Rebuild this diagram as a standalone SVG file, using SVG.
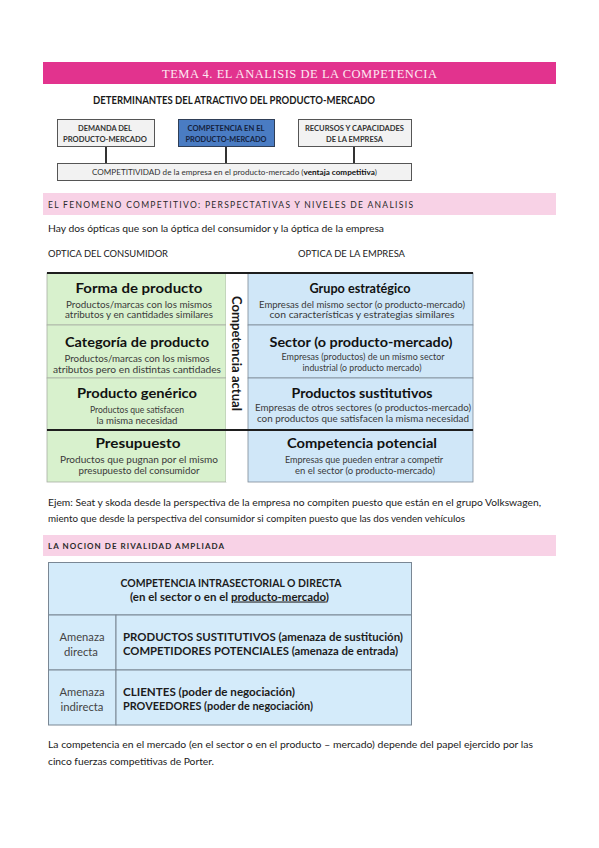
<svg xmlns="http://www.w3.org/2000/svg" width="599" height="848" viewBox="0 0 599 848">
<style>
  .sans { font-family: Lato, "Open Sans", "Liberation Sans", sans-serif; }
  .body { font-family: Lato, "Open Sans", "Liberation Sans", sans-serif; font-size: 9.5px; fill: #1a1a1a; }
  .hdr { font-family: Lato, "Open Sans", "Liberation Sans", sans-serif; font-size: 8.5px; fill: #2a2a2a; }
  .box { fill: #f2f2f2; stroke: #555; stroke-width: 1; }
  .boxt { font-family: Lato, "Open Sans", "Liberation Sans", sans-serif; font-size: 7.6px; font-weight: bold; fill: #333; text-anchor: middle; }
  .conn { stroke: #333; stroke-width: 2; fill: none; }
  .green { fill: #d8f1cd; stroke: #a8b0a4; stroke-width: 0.8; }
  .blue { fill: #d0e7f8; stroke: #7d8a96; stroke-width: 0.8; }
  .ttl { font-family: Lato, "Open Sans", "Liberation Sans", sans-serif; font-size: 14px; font-weight: bold; fill: #111; text-anchor: middle; }
  .sub { font-family: Lato, "Open Sans", "Liberation Sans", sans-serif; font-size: 9.3px; fill: #3a3a3a; text-anchor: middle; }
  .t2 { font-family: Lato, "Open Sans", "Liberation Sans", sans-serif; font-size: 10.5px; font-weight: bold; fill: #1c1c1c; }
  .t2n { font-family: Lato, "Open Sans", "Liberation Sans", sans-serif; font-size: 10.5px; fill: #444; text-anchor: middle; }
</style>

<rect width="599" height="848" fill="#ffffff"/>

<!-- Title bar -->
<g id="title-bar">
  <rect x="43" y="62" width="513" height="22" fill="#e2338e"/>
  <text x="162" y="78" font-family="'Liberation Serif', serif" font-size="12.5" fill="#fde9f2" textLength="275" lengthAdjust="spacing">TEMA 4. EL ANALISIS DE LA COMPETENCIA</text>
</g>

<!-- Determinantes diagram -->
<g id="determinantes-title">
  <text x="93" y="104" class="sans" font-size="11" font-weight="bold" fill="#1a1a1a" textLength="282" lengthAdjust="spacingAndGlyphs">DETERMINANTES DEL ATRACTIVO DEL PRODUCTO-MERCADO</text>
</g>

<g id="connectors">
  <line class="conn" x1="106" y1="146" x2="106" y2="163"/>
  <line class="conn" x1="226" y1="146" x2="226" y2="163"/>
  <line class="conn" x1="354" y1="146" x2="354" y2="163"/>
</g>

<g id="demanda">
  <rect class="box" x="57.5" y="119.5" width="97" height="27"/>
  <text class="boxt" x="105" y="131" textLength="54" lengthAdjust="spacingAndGlyphs">DEMANDA DEL</text>
  <text class="boxt" x="105" y="141.5" textLength="84" lengthAdjust="spacingAndGlyphs">PRODUCTO-MERCADO</text>
</g>
<g id="competencia">
  <rect x="178.5" y="119.5" width="96" height="27" fill="#4a7cc3" stroke="#2f3e56" stroke-width="1"/>
  <text class="boxt" x="226" y="131" fill="#15223d" style="fill:#15223d" textLength="77" lengthAdjust="spacingAndGlyphs">COMPETENCIA EN EL</text>
  <text class="boxt" x="226" y="141.5" style="fill:#15223d" textLength="81" lengthAdjust="spacingAndGlyphs">PRODUCTO-MERCADO</text>
</g>
<g id="recursos">
  <rect class="box" x="298.5" y="119.5" width="113" height="27"/>
  <text class="boxt" x="354.5" y="131" textLength="99" lengthAdjust="spacingAndGlyphs">RECURSOS Y CAPACIDADES</text>
  <text class="boxt" x="354.5" y="141.5" textLength="57" lengthAdjust="spacingAndGlyphs">DE LA EMPRESA</text>
</g>
<g id="competitividad">
  <rect class="box" x="57.5" y="163.5" width="354" height="17"/>
  <text x="92" y="175" class="sans" font-size="8.2" fill="#333" textLength="285" lengthAdjust="spacingAndGlyphs">COMPETITIVIDAD de la empresa en el producto-mercado (<tspan font-weight="bold" fill="#111">ventaja competitiva</tspan>)</text>
</g>

<!-- Section 2 -->
<g id="section-fenomeno">
  <rect x="43" y="193" width="513" height="22" fill="#f8d2e6"/>
  <text class="hdr" x="48" y="208" textLength="365" lengthAdjust="spacing">EL FENOMENO COMPETITIVO: PERSPECTATIVAS Y NIVELES DE ANALISIS</text>
  <text class="body" x="48" y="232" textLength="336" lengthAdjust="spacingAndGlyphs">Hay dos ópticas que son la óptica del consumidor y la óptica de la empresa</text>
  <text class="body" x="48" y="257" textLength="120" lengthAdjust="spacingAndGlyphs">OPTICA DEL CONSUMIDOR</text>
  <text class="body" x="298" y="257" textLength="107" lengthAdjust="spacingAndGlyphs">OPTICA DE LA EMPRESA</text>
</g>

<!-- Table 1 -->
<g id="forma-de-producto">
  <rect class="green" x="47" y="273" width="179" height="52"/>
  <text class="ttl" x="139" y="293" textLength="127" lengthAdjust="spacingAndGlyphs">Forma de producto</text>
  <text class="sub" x="139" y="307.5" textLength="146" lengthAdjust="spacingAndGlyphs">Productos/marcas con los mismos</text>
  <text class="sub" x="139" y="317.5" textLength="148" lengthAdjust="spacingAndGlyphs">atributos y en cantidades similares</text>
</g>
<g id="categoria-de-producto">
  <rect class="green" x="47" y="325" width="179" height="53"/>
  <text class="ttl" x="137" y="347" textLength="144" lengthAdjust="spacingAndGlyphs">Categoría de producto</text>
  <text class="sub" x="137" y="362" textLength="145" lengthAdjust="spacingAndGlyphs">Productos/marcas con los mismos</text>
  <text class="sub" x="137" y="372.5" textLength="168" lengthAdjust="spacingAndGlyphs">atributos pero en distintas cantidades</text>
</g>
<g id="producto-generico">
  <rect class="green" x="47" y="378" width="179" height="52"/>
  <text class="ttl" x="137" y="398" textLength="120" lengthAdjust="spacingAndGlyphs">Producto genérico</text>
  <text class="sub" x="137" y="413" textLength="94" lengthAdjust="spacingAndGlyphs">Productos que satisfacen</text>
  <text class="sub" x="137" y="424" textLength="81" lengthAdjust="spacingAndGlyphs">la misma necesidad</text>
</g>
<g id="presupuesto">
  <rect class="green" x="47" y="430" width="179" height="52"/>
  <text class="ttl" x="138" y="448" textLength="85" lengthAdjust="spacingAndGlyphs">Presupuesto</text>
  <text class="sub" x="139" y="462.5" textLength="158" lengthAdjust="spacingAndGlyphs">Productos que pugnan por el mismo</text>
  <text class="sub" x="139" y="473.5" textLength="121" lengthAdjust="spacingAndGlyphs">presupuesto del consumidor</text>
</g>

<g id="competencia-actual">
  <rect x="226" y="273" width="22" height="209" fill="#ffffff"/>
  <text x="0" y="0" transform="translate(232,353.5) rotate(90)" class="sans" font-size="12.5" font-weight="bold" fill="#1a1a1a" text-anchor="middle" textLength="115" lengthAdjust="spacingAndGlyphs">Competencia actual</text>
</g>

<g id="grupo-estrategico">
  <rect class="blue" x="248" y="273" width="225" height="52"/>
  <text class="ttl" x="360" y="292.5" textLength="101" lengthAdjust="spacingAndGlyphs">Grupo estratégico</text>
  <text class="sub" x="362" y="307.5" textLength="206" lengthAdjust="spacingAndGlyphs">Empresas del mismo sector (o producto-mercado)</text>
  <text class="sub" x="362" y="317.5" textLength="185" lengthAdjust="spacingAndGlyphs">con características y estrategias similares</text>
</g>
<g id="sector">
  <rect class="blue" x="248" y="325" width="225" height="53"/>
  <text class="ttl" x="361" y="346.5" textLength="183" lengthAdjust="spacingAndGlyphs">Sector (o producto-mercado)</text>
  <text class="sub" x="363" y="360" textLength="163" lengthAdjust="spacingAndGlyphs">Empresas (productos) de un mismo sector</text>
  <text class="sub" x="362" y="370.5" textLength="119" lengthAdjust="spacingAndGlyphs">industrial (o producto mercado)</text>
</g>
<g id="productos-sustitutivos">
  <rect class="blue" x="248" y="378" width="225" height="52"/>
  <text class="ttl" x="362" y="398" textLength="141" lengthAdjust="spacingAndGlyphs">Productos sustitutivos</text>
  <text class="sub" x="363" y="411" textLength="216" lengthAdjust="spacingAndGlyphs">Empresas de otros sectores (o productos-mercado)</text>
  <text class="sub" x="363" y="421.5" textLength="212" lengthAdjust="spacingAndGlyphs">con productos que satisfacen la misma necesidad</text>
</g>
<g id="competencia-potencial">
  <rect class="blue" x="248" y="430" width="225" height="52"/>
  <text class="ttl" x="362" y="448" textLength="150" lengthAdjust="spacingAndGlyphs">Competencia potencial</text>
  <text class="sub" x="364" y="462.5" textLength="158" lengthAdjust="spacingAndGlyphs">Empresas que pueden entrar a competir</text>
  <text class="sub" x="365" y="473.5" textLength="140" lengthAdjust="spacingAndGlyphs">en el sector (o producto-mercado)</text>
</g>
<g id="table1-rules">
  <line x1="47" y1="273" x2="473" y2="273" stroke="#1e1e1e" stroke-width="2"/>
  <line x1="47" y1="430" x2="473" y2="430" stroke="#1e1e1e" stroke-width="2"/>
</g>

<!-- Example paragraph -->
<g id="ejemplo">
  <text class="body" x="48" y="506" textLength="493" lengthAdjust="spacingAndGlyphs">Ejem: Seat y skoda desde la perspectiva de la empresa no compiten puesto que están en el grupo Volkswagen,</text>
  <text class="body" x="48" y="522" textLength="417" lengthAdjust="spacingAndGlyphs">miento que desde la perspectiva del consumidor si compiten puesto que las dos venden vehículos</text>
</g>

<!-- Section 3 -->
<g id="section-rivalidad">
  <rect x="43" y="535" width="513" height="21" fill="#f8d2e6"/>
  <text class="hdr" x="48" y="548.5" font-weight="bold" textLength="176" lengthAdjust="spacing" style="font-size:8px">LA NOCION DE RIVALIDAD AMPLIADA</text>
</g>

<!-- Table 2 -->
<g id="intrasectorial">
  <rect x="48.5" y="562.5" width="363" height="52.5" fill="#d4ebfa" stroke="#7a8794" stroke-width="1"/>
  <text class="t2" x="231" y="587" text-anchor="middle" textLength="221" lengthAdjust="spacingAndGlyphs">COMPETENCIA INTRASECTORIAL O DIRECTA</text>
  <text class="t2" x="130" y="600.5" textLength="199" lengthAdjust="spacingAndGlyphs">(en el sector o en el <tspan text-decoration="underline">producto-mercado</tspan>)</text>
</g>
<g id="amenaza-directa">
  <rect x="48.5" y="615" width="67.5" height="55" fill="#d4ebfa" stroke="#7a8794" stroke-width="1"/>
  <rect x="116" y="615" width="295.5" height="55" fill="#d4ebfa" stroke="#7a8794" stroke-width="1"/>
  <text class="t2n" x="82" y="641" textLength="45" lengthAdjust="spacingAndGlyphs">Amenaza</text>
  <text class="t2n" x="81" y="655.5" textLength="34" lengthAdjust="spacingAndGlyphs">directa</text>
  <text class="t2" x="123" y="641" textLength="280" lengthAdjust="spacingAndGlyphs">PRODUCTOS SUSTITUTIVOS (amenaza de sustitución)</text>
  <text class="t2" x="123" y="655" textLength="275" lengthAdjust="spacingAndGlyphs">COMPETIDORES POTENCIALES (amenaza de entrada)</text>
</g>
<g id="amenaza-indirecta">
  <rect x="48.5" y="670" width="67.5" height="55" fill="#d4ebfa" stroke="#7a8794" stroke-width="1"/>
  <rect x="116" y="670" width="295.5" height="55" fill="#d4ebfa" stroke="#7a8794" stroke-width="1"/>
  <text class="t2n" x="82" y="696" textLength="45" lengthAdjust="spacingAndGlyphs">Amenaza</text>
  <text class="t2n" x="82" y="710.5" textLength="43" lengthAdjust="spacingAndGlyphs">indirecta</text>
  <text class="t2" x="123" y="696" textLength="172" lengthAdjust="spacingAndGlyphs">CLIENTES (poder de negociación)</text>
  <text class="t2" x="123" y="710" textLength="190" lengthAdjust="spacingAndGlyphs">PROVEEDORES (poder de negociación)</text>
</g>

<!-- Closing paragraph -->
<g id="conclusion">
  <text class="body" x="48" y="748" textLength="485" lengthAdjust="spacingAndGlyphs">La competencia en el mercado (en el sector o en el producto – mercado) depende del papel ejercido por las</text>
  <text class="body" x="48" y="765" textLength="166" lengthAdjust="spacingAndGlyphs">cinco fuerzas competitivas de Porter.</text>
</g>
</svg>
